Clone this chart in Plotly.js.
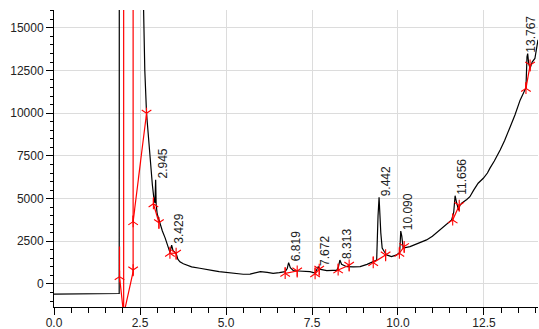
<!DOCTYPE html>
<html>
<head>
<meta charset="utf-8">
<script src="https://cdn.plot.ly/plotly-3.0.1.min.js"></script>
<style>html,body{margin:0;padding:0;background:#fff;}#chart{width:539px;height:329px;}</style>
</head>
<body>
<div id="chart"></div>
<script>
// Chromatogram signal (retention time in min, response)
const signalTime = [0, 0.5, 1.0, 1.5, 1.85, 1.895, 1.9, 2.55, 2.6, 2.64, 2.69, 2.79, 2.86, 2.91, 2.935, 2.955, 2.97, 3.0, 3.08, 3.15, 3.23, 3.32, 3.37, 3.42, 3.46, 3.52, 3.55, 3.6, 3.66, 3.76, 3.86, 4.0, 4.24, 4.4, 4.63, 4.8, 5.02, 5.25, 5.5, 5.7, 5.85, 6.0, 6.2, 6.37, 6.55, 6.72, 6.78, 6.82, 6.87, 6.96, 7.1, 7.25, 7.44, 7.59, 7.65, 7.68, 7.75, 7.93, 8.1, 8.22, 8.27, 8.31, 8.36, 8.51, 8.7, 8.9, 9.1, 9.28, 9.38, 9.42, 9.45, 9.5, 9.54, 9.6, 9.67, 9.81, 9.96, 10.05, 10.08, 10.11, 10.15, 10.35, 10.5, 10.65, 10.83, 11.0, 11.22, 11.4, 11.56, 11.62, 11.66, 11.7, 11.76, 11.8, 11.85, 12.0, 12.09, 12.2, 12.33, 12.48, 12.6, 12.67, 12.8, 12.97, 13.1, 13.26, 13.4, 13.55, 13.69, 13.72, 13.75, 13.77, 13.8, 13.84, 13.9, 13.98, 14.07];
const signalValue = [-600, -600, -595, -580, -560, -560, 30000, 30000, 16500, 12500, 10000, 7260, 5800, 4900, 4750, 6100, 4650, 4100, 3500, 3100, 2700, 2150, 1850, 2280, 1950, 1850, 1800, 1450, 1300, 1180, 1110, 1000, 920, 850, 780, 720, 660, 610, 570, 580, 640, 720, 680, 620, 660, 720, 900, 1250, 950, 780, 760, 740, 720, 640, 850, 1010, 850, 780, 800, 800, 1000, 1400, 1150, 1010, 1000, 1020, 1150, 1300, 1400, 4000, 5080, 3000, 2100, 1900, 1700, 1600, 1700, 1850, 3100, 2800, 2100, 2190, 2300, 2450, 2580, 2800, 3160, 3450, 3750, 4200, 5170, 4800, 4330, 4600, 4730, 4950, 5110, 5500, 5900, 6190, 6500, 6770, 7200, 7850, 8400, 9200, 9900, 10770, 11360, 11500, 13300, 13500, 12900, 12630, 13000, 13210, 14300];

// Integration baselines (red); null separates segments
const baseTime = [1.905, 1.905, 2.025, 2.025, null, 2.025, 2.30, 2.30, null, 2.30, 2.69, null, 2.89, 3.05, null, 3.37, 3.55, null, 6.72, 7.07, null, 7.59, 7.71, null, 8.26, 8.58, null, 9.28, 9.64, null, 10.04, 10.18, null, 11.59, 11.78, null, 13.72, 13.84];
const baseValue = [2200, 430, -1800, 40000, null, -1800, 720, 40000, null, 3650, 10000, null, 4700, 3590, null, 1800, 1800, null, 620, 760, null, 600, 860, null, 820, 1100, null, 1250, 1700, null, 1800, 2190, null, 3750, 4600, null, 11460, 12820];

// Peak start / end markers
const startTime = [1.905, 2.30, 2.89, 3.37, 6.72, 7.59, 8.26, 9.28, 10.04, 11.59, 13.72];
const startValue = [430, 3650, 4700, 1800, 620, 600, 820, 1250, 1800, 3750, 11460];
const endTime = [2.30, 2.69, 3.05, 3.55, 7.07, 7.71, 8.58, 9.64, 10.18, 11.78, 13.84];
const endValue = [820, 10000, 3590, 1800, 760, 860, 1100, 1700, 2190, 4600, 12820];

// Peak labels
const peakLabels = ['2.945', '3.429', '6.819', '7.672', '8.313', '9.442', '10.090', '11.656', '13.767'];
const peakTime = [2.955, 3.42, 6.82, 7.68, 8.31, 9.45, 10.08, 11.66, 13.77];
const peakValue = [6100, 2280, 1250, 1010, 1400, 5080, 3100, 5170, 13500];

const xTickVals = [0, 2.5, 5, 7.5, 10, 12.5];
const xTickText = ['0.0', '2.5', '5.0', '7.5', '10.0', '12.5'];
const yTickVals = [0, 2500, 5000, 7500, 10000, 12500, 15000];

const X_MAX = 14.07;
const RED = '#ff0000';
const mk = (x, y, sym) => ({
  x: x, y: y, type: 'scatter', mode: 'markers', hoverinfo: 'skip',
  marker: {symbol: sym, size: 8, color: RED, line: {color: RED, width: 1.1}}
});

const traces = [
  {x: signalTime, y: signalValue, type: 'scatter', mode: 'lines', line: {color: '#000', width: 1.2}, hoverinfo: 'skip'},
  {x: baseTime, y: baseValue, type: 'scatter', mode: 'lines', line: {color: RED, width: 1.2}, connectgaps: false, hoverinfo: 'skip'},
  mk(startTime, startValue, 'y-up-open'),
  mk(startTime, startValue, 'line-ns-open'),
  mk(endTime, endValue, 'y-down-open'),
  mk(endTime, endValue, 'line-ns-open')
];

const tickFont = {family: 'Liberation Sans, Arial, sans-serif', size: 12, color: '#222'};

const annotations = peakLabels.map((t, i) => ({
  x: peakTime[i], y: peakValue[i], xref: 'x', yref: 'y',
  text: t, showarrow: false, textangle: -90,
  xanchor: 'center', yanchor: 'bottom',
  xshift: (X_MAX - peakTime[i] < 0.5) ? 3 : 7, yshift: -1,
  font: {family: 'Liberation Sans, Arial, sans-serif', size: 12, color: '#222'}
}));

const layout = {
  width: 539, height: 329,
  margin: {l: 54, r: 1, t: 10, b: 22, pad: 0},
  paper_bgcolor: '#fff', plot_bgcolor: '#fff',
  showlegend: false,
  xaxis: {
    range: [0, X_MAX], tickvals: xTickVals, ticktext: xTickText,
    ticks: 'outside', ticklen: 7, tickwidth: 1, tickcolor: '#000',
    ticklabelstandoff: -2,
    showline: true, linecolor: '#000', linewidth: 1,
    showgrid: true, gridcolor: '#dcdcdc', gridwidth: 1, zeroline: false,
    minor: {dtick: 0.5, tick0: 0, ticks: 'outside', ticklen: 5, tickcolor: '#000', showgrid: false},
    tickfont: tickFont
  },
  yaxis: {
    range: [-1350, 16050], tickvals: yTickVals, tickformat: 'd',
    ticks: 'outside', ticklen: 7, tickwidth: 1, tickcolor: '#000',
    showline: true, linecolor: '#000', linewidth: 1,
    showgrid: true, gridcolor: '#dcdcdc', gridwidth: 1, zeroline: false,
    minor: {dtick: 500, tick0: 0, ticks: 'outside', ticklen: 3, tickcolor: '#000', showgrid: false},
    tickfont: tickFont
  },
  annotations: annotations
};

Plotly.newPlot('chart', traces, layout, {displayModeBar: false, staticPlot: true});
</script>
</body>
</html>
